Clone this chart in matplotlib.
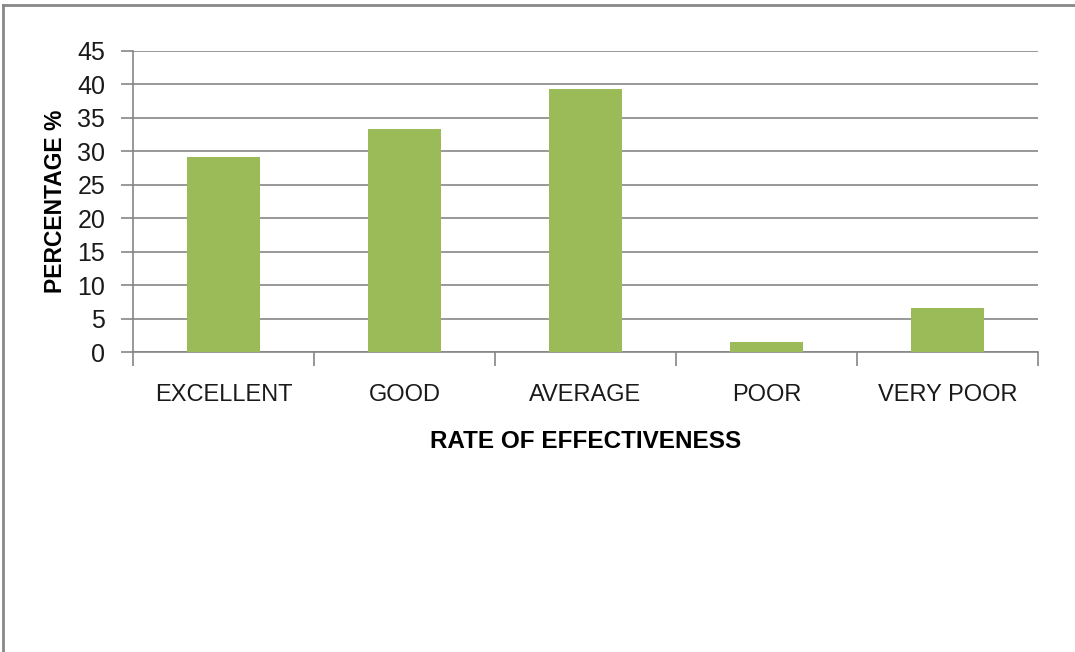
import numpy as np
import matplotlib.pyplot as plt
from matplotlib.lines import Line2D

plt.rcParams["font.family"] = ["Liberation Sans", "DejaVu Sans"]

categories = ["EXCELLENT", "GOOD", "AVERAGE", "POOR", "VERY POOR"]
percentages = [29.2, 33.3, 39.3, 1.5, 6.6]
y_ticks = [0, 5, 10, 15, 20, 25, 30, 35, 40, 45]

W, H = 1075, 652
fig = plt.figure(figsize=(W / 100, H / 100), dpi=100)
ax = fig.add_axes([133 / W, 1 - 352 / H, (1038 - 133) / W, (352 - 51) / H])

grey = "#868686"
x = np.arange(len(categories))
ax.bar(x, percentages, width=0.4, color="#9BBB59", zorder=3)

ax.set_xlim(-0.5, len(categories) - 0.5)
ax.set_ylim(0, 45)
ax.set_yticks(y_ticks)
ax.yaxis.grid(True, color=grey, linewidth=1.2, zorder=0)

ax.set_xticks(x)
ax.set_xticklabels(categories)
ax.set_xticks(np.arange(-0.5, len(categories)), minor=True)
ax.tick_params(axis="x", which="major", length=0, pad=23, labelsize=17, labelcolor="#1a1a1a")
ax.tick_params(axis="x", which="minor", length=10, width=1.2, color=grey, direction="out")
ax.tick_params(axis="y", length=9, width=1.2, color=grey, pad=11, labelsize=18, labelcolor="#1a1a1a")

for side in ["top", "right"]:
    ax.spines[side].set_visible(False)
for side in ["left", "bottom"]:
    ax.spines[side].set_color(grey)
    ax.spines[side].set_linewidth(1.2)

ax.set_xlabel("RATE OF EFFECTIVENESS", fontsize=17.5, fontweight="bold", labelpad=17)
ax.set_ylabel("PERCENTAGE %", fontsize=16.5, fontweight="bold", labelpad=7)

# outer frame of the chart area (top and left edges only visible)
fig.add_artist(Line2D([3 / W, 1], [1 - 5 / H, 1 - 5 / H], color="#888888", linewidth=2, transform=fig.transFigure))
fig.add_artist(Line2D([3 / W, 3 / W], [0, 1 - 5 / H], color="#888888", linewidth=2, transform=fig.transFigure))

fig.savefig("out.png", dpi=100)
